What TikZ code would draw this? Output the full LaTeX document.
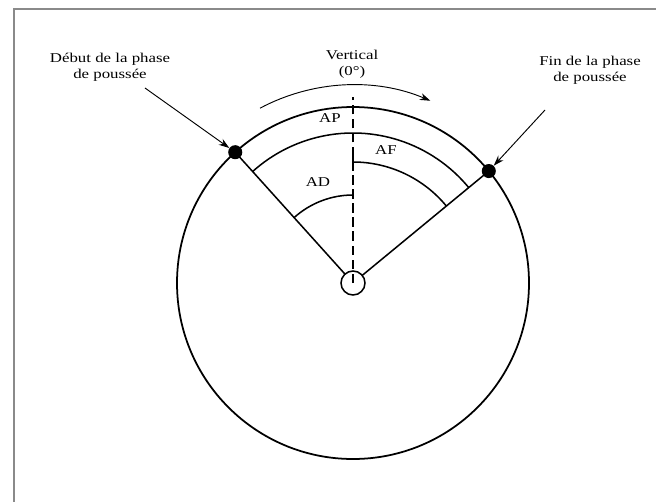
\documentclass[tikz,border=0pt]{standalone}
\usepackage{fontspec}
\setmainfont{Liberation Serif}[FakeStretch=1.25]
\usetikzlibrary{arrows.meta, positioning, calc}
\definecolor{frameGray}{HTML}{8A8A8A}

\begin{document}
\begin{tikzpicture}[x=0.03cm, y=0.03cm,
    lbl/.style={font=\fontsize{11.5}{14}\selectfont, align=center, inner sep=1pt},
    dot/.style={circle, fill=black, inner sep=0pt, minimum size=12pt},
    pointer/.style={-{Stealth[length=9pt, width=6pt]}, line width=0.8pt}]
    \useasboundingbox (-353, -218) rectangle (303, 283);

    % Cadre
    \draw[frameGray, line width=1.5pt] (-339, -230) -- (-339, 274) -- (320, 274);

    % Roue
    \coordinate (O) at (0, 0);
    \draw[line width=1.5pt] (O) circle (176);
    \draw[line width=1.3pt] (O) circle (12);

    % Debut et fin de poussee
    \node[dot] (debut) at (132:176) {};
    \node[dot] (fin) at (39.5:176) {};
    \draw[line width=1.3pt] (132:12) -- (debut.center);
    \draw[line width=1.3pt] (39.5:12) -- (fin.center);

    % Verticale
    \draw[line width=1.4pt, dash pattern=on 8pt off 4pt] (O) -- (0, 186) coordinate (haut);
    \node[lbl] (vert) at (-1, 219) {Vertical\\(0°)};

    % Angles
    \draw[line width=1.3pt] (132:150) arc[start angle=132, end angle=39.5, radius=150];
    \draw[line width=1.3pt] (132:88) arc[start angle=132, end angle=90, radius=88];
    \draw[line width=1.3pt] (0, 127) -- (0, 121) arc[start angle=90, end angle=39.5, radius=121];
    \node[lbl] (ap) at (-23, 165) {AP};
    \node[lbl] (af) at (33, 133) {AF};
    \node[lbl] (ad) at (-35, 101) {AD};

    % Sens de rotation
    \draw[pointer] (118:198) arc[start angle=118, end angle=67, radius=198];

    % Legendes
    \node[lbl] (ldebut) at (-243, 216) {Début de la phase\\de poussée};
    \node[lbl] (lfin) at (237, 213) {Fin de la phase\\de poussée};
    \coordinate (pdebut) at (-208, 195);
    \coordinate (pfin) at (192, 173);
    \draw[pointer] (pdebut) -- (debut);
    \draw[pointer] (pfin) -- (fin);
  \end{tikzpicture}
\end{document}
